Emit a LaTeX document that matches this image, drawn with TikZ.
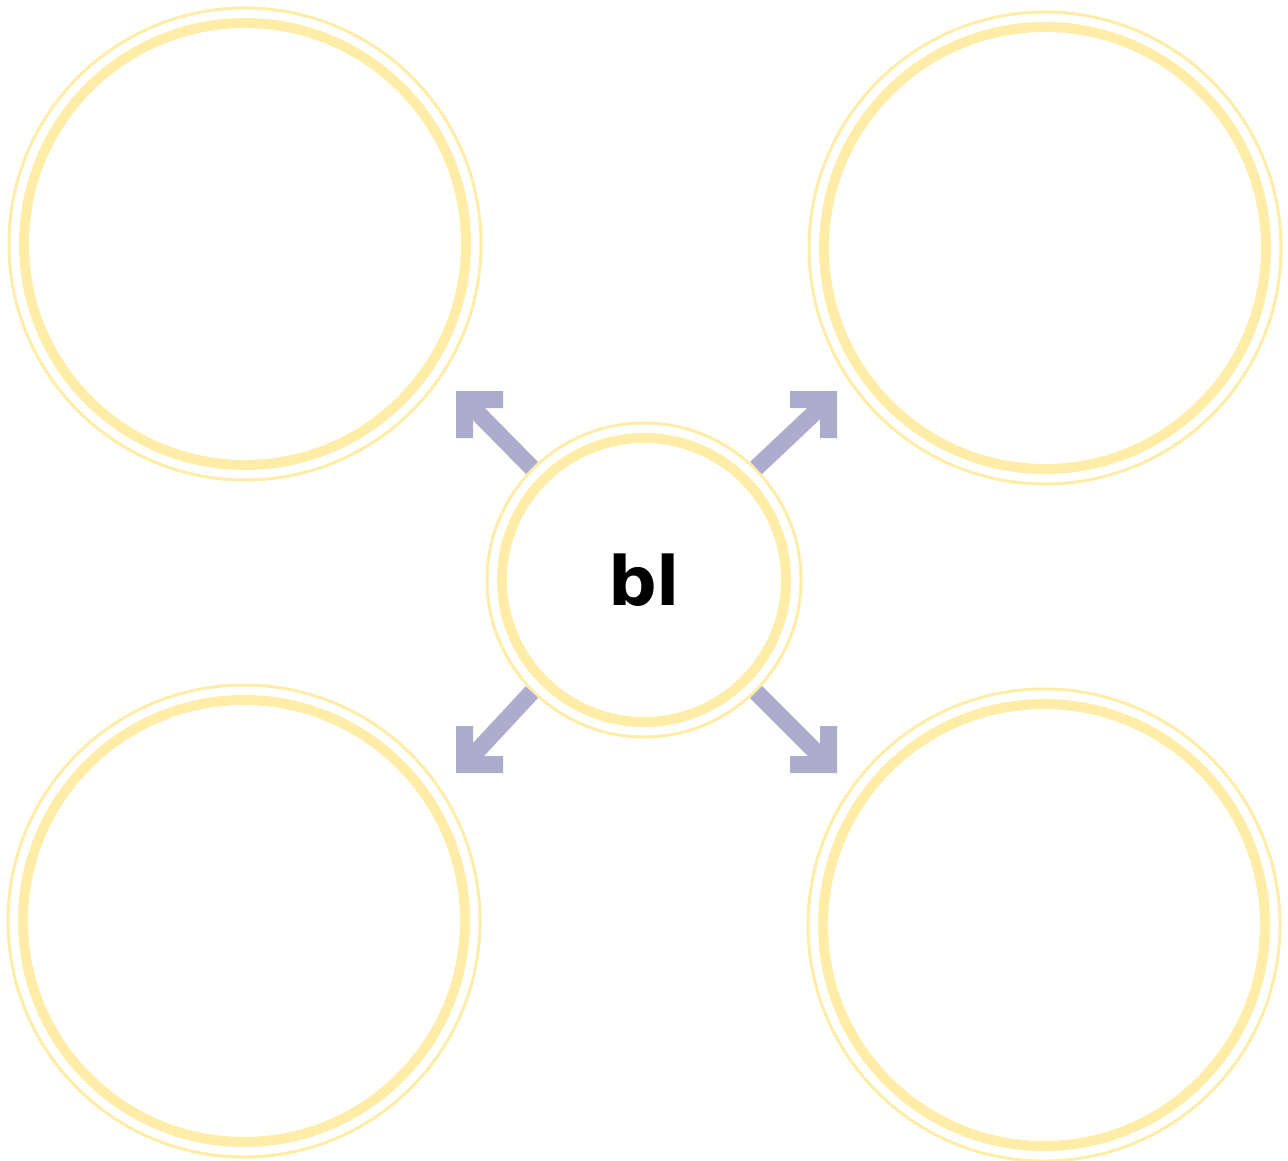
\documentclass[tikz,border=0pt]{standalone}
\usepackage{fontspec}
\setmainfont{DejaVu Sans}
\usetikzlibrary{positioning, calc}

\definecolor{ringcol}{RGB}{255,236,166}
\definecolor{arrcol}{RGB}{173,172,204}

\begin{document}
\begin{tikzpicture}[
      x=0.5pt, y=-0.5pt,
      bub/.style={circle, draw=ringcol, line width=1.5pt, inner sep=0pt, minimum size=236pt},
      hub/.style={bub, minimum size=157pt, font=\fontsize{34}{34}\selectfont\bfseries},
      ring/.style={draw=ringcol, line width=5pt},
      shft/.style={draw=arrcol, line width=8.5pt, line cap=butt},
      hd/.style={fill=arrcol}]
      \useasboundingbox (0,0) rectangle (1288,1160);
      % outer bubbles
      \node[bub] (nw) at (245,244) {};
      \node[bub] (ne) at (1045,248) {};
      \node[bub] (sw) at (244,921) {};
      \node[bub] (se) at (1044,925) {};
      \node[hub] (ctr) at (644,580) {bl};
      \foreach \b in {nw, ne, sw, se}
        \draw[ring] (\b.center) circle (221);
      \draw[ring] (ctr.center) circle (142);

      % arrow heads: name / corner x / corner y / mirror / anchor
      \foreach \n/\tx/\ty/\sx/\sy/\a in {nw/456/391/1/1/135, ne/837/391/-1/1/45, sw/456/773/1/-1/225, se/837/773/-1/-1/315} {
        \coordinate (tip-\n) at (\tx,\ty);
        \fill[hd] (tip-\n) -- ++(47*\sx,0) -- ++(0,17*\sy) -- ++(-30*\sx,0) -- ++(0,30*\sy) -- ++(-17*\sx,0) -- cycle;
        \draw[shft] (ctr.\a) -- ($(tip-\n)+(10*\sx,10*\sy)$);
      }
\end{tikzpicture}
\end{document}
